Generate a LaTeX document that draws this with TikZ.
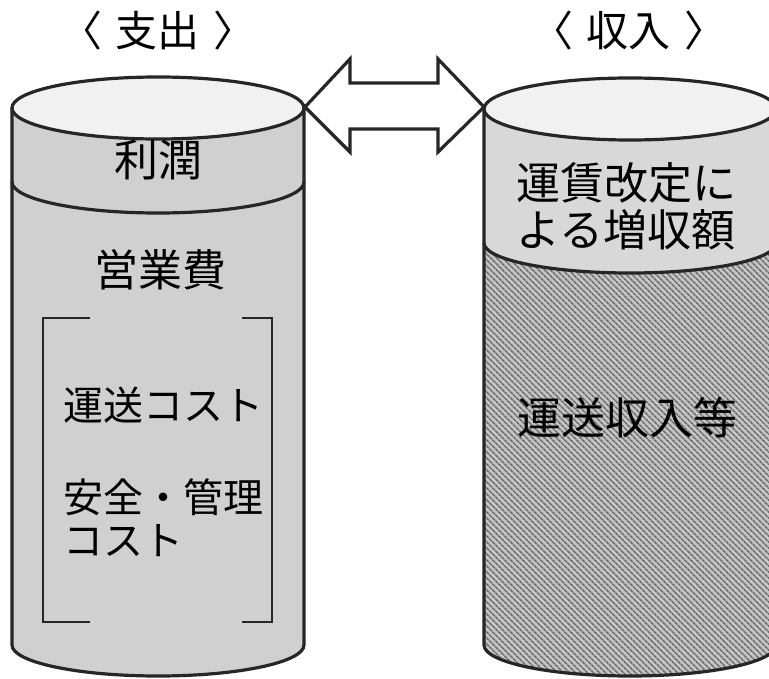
\documentclass[tikz,border=0pt]{standalone}
\usepackage{fontspec}
\newfontfamily\cjk{Noto Sans CJK JP}
\usetikzlibrary{patterns.meta}
\definecolor{bodygrey}{HTML}{D0D0D0}
\definecolor{topgrey}{HTML}{F1F1F1}
\definecolor{bandgrey}{HTML}{D8D8D8}
\definecolor{hatchbase}{HTML}{C4C4C4}
\definecolor{hatchline}{HTML}{707070}
\begin{document}
\begin{tikzpicture}[x=1pt,y=-1pt,
  outline/.style={line width=3.2pt,draw=black!85},
  bracketline/.style={line width=2pt,draw=black!85},
  titletext/.style={font={\cjk\fontsize{42}{48}\selectfont},inner sep=0pt},
  maintext/.style={font={\cjk\fontsize{44}{47}\selectfont},inner sep=0pt,align=center},
  itemtext/.style={font={\cjk\fontsize{40}{43}\selectfont},inner sep=0pt,align=left,anchor=west}]
\clip (0,0) rectangle (769,679);
\fill[white] (0,0) rectangle (769,679);

% ---------- left cylinder (支出) ----------
\fill[bodygrey] (12,108) -- (12,645) arc[start angle=180,end angle=0,x radius=146,y radius=31] -- (304,108) -- cycle;
\draw[outline] (12,108) -- (12,645) arc[start angle=180,end angle=0,x radius=146,y radius=31] -- (304,108);
\draw[outline] (12,182) arc[start angle=180,end angle=0,x radius=146,y radius=31];
\draw[outline,fill=topgrey] (158,108) ellipse[x radius=146,y radius=31];

% brackets
\draw[bracketline] (90,318) -- (43,318) -- (43,622) -- (90,622);
\draw[bracketline] (242,318) -- (272,318) -- (272,622) -- (242,622);

% ---------- right cylinder (収入) ----------
\fill[hatchbase] (484,243) arc[start angle=180,end angle=0,x radius=146,y radius=30] -- (776,645) arc[start angle=0,end angle=180,x radius=146,y radius=31] -- cycle;
\fill[pattern={Lines[angle=135,distance=4pt,line width=1.7pt]},pattern color=hatchline] (484,243) arc[start angle=180,end angle=0,x radius=146,y radius=30] -- (776,645) arc[start angle=0,end angle=180,x radius=146,y radius=31] -- cycle;
\fill[bandgrey] (484,109) -- (484,243) arc[start angle=180,end angle=0,x radius=146,y radius=30] -- (776,109) -- cycle;
\draw[outline] (484,109) -- (484,645) arc[start angle=180,end angle=0,x radius=146,y radius=31];
\draw[outline] (484,243) arc[start angle=180,end angle=0,x radius=146,y radius=30];
\draw[outline,fill=topgrey] (630,109) ellipse[x radius=146,y radius=31];

% ---------- double arrow ----------
\draw[outline,fill=white,line join=miter] (305,107) -- (350,59) -- (350,83) -- (438,83) -- (438,59) -- (484,107) -- (438,152) -- (438,129) -- (350,129) -- (350,152) -- cycle;

% ---------- texts ----------
\node[titletext] (tleft) at (158,31) {〈\hspace{14pt}支出\hspace{14pt}〉};
\node[titletext] (tright) at (629,31) {〈\hspace{14pt}収入\hspace{14pt}〉};
\node[maintext] (profit) at (158,160) {利潤};
\node[maintext] (opex) at (160,270) {営業費};
\node[itemtext] (transport) at (63,405) {運送コスト};
\node[itemtext] (safety) at (63,518) {安全・管理\\コスト};
\node[maintext] (increase) at (626,206) {運賃改定に\\よる増収額};
\node[maintext] (revenue) at (627,418) {運送収入等};
\end{tikzpicture}
\end{document}
